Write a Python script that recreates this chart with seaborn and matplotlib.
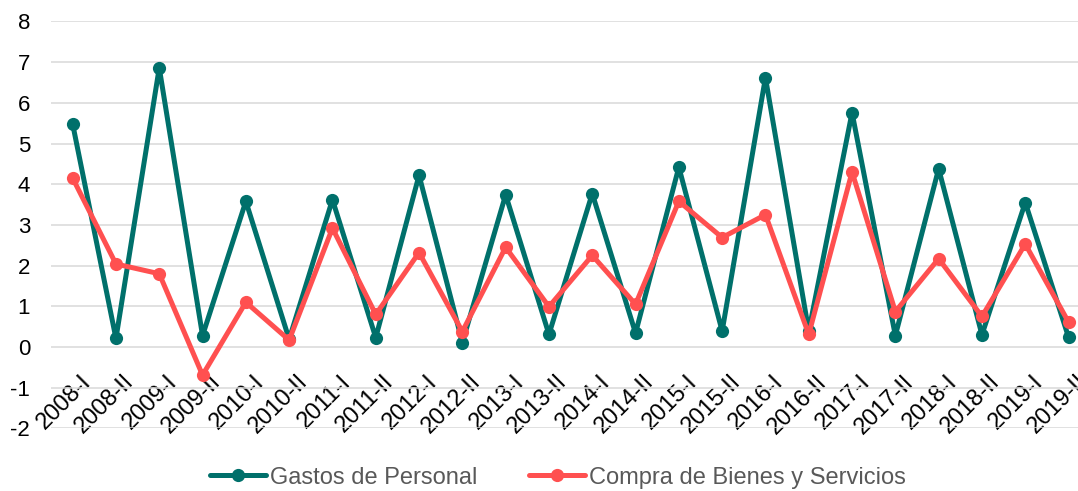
import matplotlib
matplotlib.use("Agg")
import matplotlib.pyplot as plt
import matplotlib.transforms as mtransforms
import seaborn as sns
import pandas as pd

periods = ["2008-I", "2008-II", "2009-I", "2009-II", "2010-I", "2010-II",
           "2011-I", "2011-II", "2012-I", "2012-II", "2013-I", "2013-II",
           "2014-I", "2014-II", "2015-I", "2015-II", "2016-I", "2016-II",
           "2017-I", "2017-II", "2018-I", "2018-II", "2019-I", "2019-II"]
gastos_personal = [5.48, 0.21, 6.86, 0.28, 3.58, 0.19, 3.62, 0.23, 4.22, 0.11,
                   3.74, 0.31, 3.77, 0.34, 4.42, 0.39, 6.62, 0.39, 5.76, 0.28,
                   4.38, 0.30, 3.55, 0.24]
compra_bienes = [4.15, 2.04, 1.80, -0.69, 1.10, 0.17, 2.92, 0.80, 2.32, 0.38,
                 2.45, 0.99, 2.25, 1.05, 3.58, 2.69, 3.25, 0.31, 4.30, 0.87,
                 2.17, 0.75, 2.53, 0.61]
series_names = ["Gastos de Personal", "Compra de Bienes y Servicios"]
y_ticks = [-2, -1, 0, 1, 2, 3, 4, 5, 6, 7, 8]

df = pd.DataFrame({"Periodo": periods * 2,
                   "Valor": gastos_personal + compra_bienes,
                   "Serie": [series_names[0]] * len(periods) + [series_names[1]] * len(periods)})
df["x"] = list(range(len(periods))) * 2

sns.set_theme(style="white")
plt.rcParams["font.family"] = ["Liberation Sans", "DejaVu Sans"]

W, H = 1078, 491
fig = plt.figure(figsize=(W / 100, H / 100), dpi=100)
# plot area: left at 51px, 43.3 px per category (right edge runs past the image)
ax = fig.add_axes([51 / W, 1 - 428.4 / H, 24 * 43.3 / W, 407 / H])

palette = {series_names[0]: "#00706B", series_names[1]: "#FF5050"}
sns.lineplot(data=df, x="x", y="Valor", hue="Serie", palette=palette, ax=ax,
             marker="o", markersize=9.5, linewidth=3.6, markeredgewidth=0,
             sort=False, legend=True)

ax.set_xlim(-0.5, len(periods) - 0.5)
ax.set_ylim(-2, 8)
ax.set_yticks(y_ticks)
ax.set_yticklabels([str(t) for t in y_ticks], fontsize=16, color="#000000")
ax.yaxis.grid(True, color="#D9D9D9", linewidth=1.1)
ax.xaxis.grid(False)
ax.set_axisbelow(True)
for s in ["top", "right", "left"]:
    ax.spines[s].set_visible(False)
ax.spines["bottom"].set_position(("data", 0))
ax.spines["bottom"].set_visible(False)
ax.set_xticks(range(len(periods)))
ax.set_xticklabels(periods, rotation=45, ha="right", va="top",
                   rotation_mode="anchor", fontsize=17, color="#000000")
ax.tick_params(axis="x", length=0, pad=17)
ax.tick_params(axis="y", length=0, pad=15)
offset = mtransforms.ScaledTranslation(7 / 100, 0, fig.dpi_scale_trans)
for lbl in ax.get_xticklabels():
    lbl.set_transform(lbl.get_transform() + offset)
ax.set_xlabel("")
ax.set_ylabel("")

handles, labels = ax.get_legend_handles_labels()
ax.get_legend().remove()
fig.legend(handles=handles, labels=labels, loc="center left",
           bbox_to_anchor=(210 / W, 1 - 477.7 / H), ncol=2, frameon=False,
           fontsize=17, labelcolor="#595959", handlelength=2.37,
           handletextpad=0.17, columnspacing=2.2, borderpad=0, borderaxespad=0)

fig.savefig("out.png", dpi=100)
